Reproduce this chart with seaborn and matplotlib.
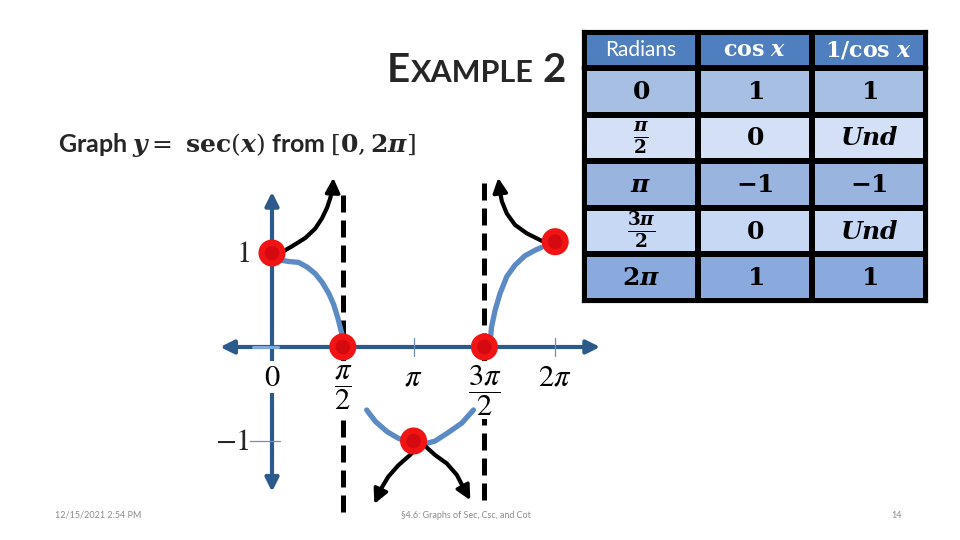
import numpy as np
import pandas as pd
import matplotlib
matplotlib.use("Agg")
import matplotlib.pyplot as plt
import seaborn as sns
from matplotlib.colors import ListedColormap

# ---------------- data ----------------
PI = np.pi
key_x = [0, PI / 2, PI, 3 * PI / 2, 2 * PI]
key_y = [1.0, 0.0, -1.0, 0.0, 1.12]          # red points as drawn on the slide

# light-blue sketch of cos x
cos_left_x = [0.11, 0.37, 0.59, 0.78, 0.96, 1.11, 1.26, 1.37, 1.46, 1.54, 1.58]
cos_left_y = [0.93, 0.91, 0.90, 0.85, 0.78, 0.69, 0.57, 0.45, 0.31, 0.16, 0.06]
cos_mid_x = [2.10, 2.29, 2.55, 2.80, 3.06, 3.32, 3.62, 3.91, 4.21, 4.47]
cos_mid_y = [-0.67, -0.79, -0.90, -0.97, -1.02, -1.04, -1.00, -0.91, -0.81, -0.67]
cos_right_x = [4.84, 4.87, 4.95, 5.06, 5.21, 5.39, 5.61, 5.84, 5.98]
cos_right_y = [0.04, 0.21, 0.39, 0.57, 0.75, 0.87, 0.97, 1.03, 1.06]

# black sec x branches with arrow heads (last point = arrow tip)
sec_a_x = [0.11, 0.44, 0.74, 0.96, 1.11, 1.22, 1.29, 1.35, 1.36]
sec_a_y = [0.98, 1.07, 1.16, 1.26, 1.37, 1.48, 1.58, 1.69, 1.80]
sec_b_x = [5.98, 5.65, 5.39, 5.21, 5.10, 5.06, 5.02]
sec_b_y = [1.13, 1.21, 1.30, 1.42, 1.55, 1.65, 1.80]
sec_c_x = [3.32, 3.06, 2.80, 2.58, 2.43, 2.27]
sec_c_y = [-1.02, -1.15, -1.26, -1.38, -1.50, -1.67]
sec_d_x = [3.32, 3.62, 3.88, 4.10, 4.24, 4.40]
sec_d_y = [-1.02, -1.15, -1.24, -1.36, -1.49, -1.63]

# vertical asymptotes
asym_x = [PI / 2, 3 * PI / 2]
asym_top = [1.69, 1.78]
asym_bottom = [-1.76, -1.63]

# axis extents
x_axis_range = [-1.15, 7.28]
y_axis_range = [-1.54, 1.65]

x_tick_pos = [0, PI / 2, PI, 3 * PI / 2, 2 * PI]
x_tick_labels = [r"$0$", r"$\dfrac{\pi}{2}$", r"$\pi$", r"$\dfrac{3\pi}{2}$", r"$2\pi$"]
y_tick_pos = [1, -1]
y_tick_labels = [r"$1$", r"$-1$"]

# table
table_header = [r"Radians", r"$\mathbf{cos}\ \mathbfit{x}$", r"$\mathbf{1/cos}\ \mathbfit{x}$"]
table_radians = [r"$\mathbf{0}$", r"$\frac{\mathbfit{\pi}}{\mathbf{2}}$", r"$\mathbfit{\pi}$",
                 r"$\frac{\mathbf{3}\mathbfit{\pi}}{\mathbf{2}}$", r"$\mathbf{2}\mathbfit{\pi}$"]
table_cos = [r"$\mathbf{1}$", r"$\mathbf{0}$", r"$\mathbf{-1}$", r"$\mathbf{0}$", r"$\mathbf{1}$"]
table_sec = [r"$\mathbf{1}$", r"$\mathbfit{Und}$", r"$\mathbf{-1}$", r"$\mathbfit{Und}$", r"$\mathbf{1}$"]
row_colors = ["#A6BFE2", "#D4E0F6", "#98B4DF", "#C7D8F4", "#8AAADD"]
header_color = "#4F7FBE"

# ---------------- style ----------------
sns.set_theme(style="white")
plt.rcParams["font.family"] = ["Lato", "DejaVu Sans"]
plt.rcParams["mathtext.fontset"] = "custom"
plt.rcParams["mathtext.rm"] = "DejaVu Serif"
plt.rcParams["mathtext.it"] = "DejaVu Serif:italic"
plt.rcParams["mathtext.bf"] = "DejaVu Serif:bold"
plt.rcParams["mathtext.bfit"] = "DejaVu Serif:italic:bold"

W, H = 960, 540
fig = plt.figure(figsize=(9.6, 5.4), dpi=100)
fig.patch.set_facecolor("white")

# main axes mapped onto slide pixels
X0, XS, Y0, YS = 272.0, 45.07, 347.0, 94.0
ax = fig.add_axes([0, 0, 1, 1])

AXCOL = "#2C5A8A"
# axes with double arrows
ax.annotate("", xy=(x_axis_range[0], 0), xytext=(x_axis_range[1], 0),
            arrowprops=dict(arrowstyle="<|-|>", color=AXCOL, lw=3, mutation_scale=20,
                            shrinkA=0, shrinkB=0), zorder=2)
ax.annotate("", xy=(0, y_axis_range[0]), xytext=(0, y_axis_range[1]),
            arrowprops=dict(arrowstyle="<|-|>", color=AXCOL, lw=3, mutation_scale=20,
                            shrinkA=0, shrinkB=0), zorder=2)

# small tick marks
for xp in [PI, 2 * PI]:
    ax.plot([xp, xp], [-0.1, 0.1], color="#6F8FB5", lw=0.9, zorder=3)
ax.plot([-0.49, 0.18], [-1, -1], color="#6F8FB5", lw=0.9, zorder=3)
ax.plot([-0.42, 0.13], [0, 0], color="#7FAAE0", lw=2.2, zorder=3)

# asymptotes
for xa, yt, yb in zip(asym_x, asym_top, asym_bottom):
    ax.plot([xa, xa], [yb, yt], color="black", lw=3.6, dashes=(3.4, 1.6), zorder=1)

# tick labels (serif, white background)
for xp, lab in zip(x_tick_pos, x_tick_labels):
    ax.text(xp, -0.17, lab, ha="center", va="top", fontsize=22, math_fontfamily="stix",
            color="black", zorder=4,
            bbox=dict(facecolor="white", edgecolor="none", pad=1))
for yp, lab in zip(y_tick_pos, y_tick_labels):
    ax.annotate(lab, xy=(0, yp), xytext=(-16, 0), textcoords="offset points",
                ha="right", va="center", fontsize=22, math_fontfamily="stix", zorder=4)

# light blue cos sketch
BLUE = "#5B8AC4"
for xs, ys in [(cos_left_x, cos_left_y), (cos_mid_x, cos_mid_y), (cos_right_x, cos_right_y)]:
    df = pd.DataFrame({"x": xs, "y": ys})
    sns.lineplot(data=df, x="x", y="y", ax=ax, color=BLUE, lw=3.8, sort=False,
                 estimator=None, zorder=5, solid_capstyle="round", solid_joinstyle="round")

# black sec branches with arrow heads
for xs, ys in [(sec_a_x, sec_a_y), (sec_b_x, sec_b_y), (sec_c_x, sec_c_y), (sec_d_x, sec_d_y)]:
    df = pd.DataFrame({"x": xs[:-1], "y": ys[:-1]})
    sns.lineplot(data=df, x="x", y="y", ax=ax, color="black", lw=3.0, sort=False,
                 estimator=None, zorder=6, solid_joinstyle="round")
    ax.annotate("", xy=(xs[-1], ys[-1]), xytext=(xs[-2], ys[-2]),
                arrowprops=dict(arrowstyle="-|>", color="black", lw=2.5, mutation_scale=22,
                                shrinkA=0, shrinkB=0), zorder=6)

# red key points
pts = pd.DataFrame({"x": key_x, "y": key_y})
sns.scatterplot(data=pts, x="x", y="y", ax=ax, s=380, color="#F01414", edgecolor="none", zorder=7)
sns.scatterplot(data=pts, x="x", y="y", ax=ax, s=110, color="#C0000E", edgecolor="none",
                alpha=0.55, zorder=8)
ax.set_xlim((0 - X0) / XS, (W - X0) / XS)
ax.set_ylim((Y0 - H) / YS, Y0 / YS)
ax.axis("off")

# ---------------- table (heatmaps) ----------------
tx0, tx1, ty0, ty1, ty2 = 584, 926, 32, 68, 301
axh = fig.add_axes([tx0 / W, 1 - ty1 / H, (tx1 - tx0) / W, (ty1 - ty0) / H])
axb = fig.add_axes([tx0 / W, 1 - ty2 / H, (tx1 - tx0) / W, (ty2 - ty1) / H])

hdr = pd.DataFrame([[0, 0, 0]])
sns.heatmap(hdr, ax=axh, cmap=ListedColormap([header_color]), cbar=False,
            annot=np.array([table_header]), fmt="", linewidths=3, linecolor="black",
            annot_kws=dict(color="white", fontsize=15), xticklabels=False, yticklabels=False)
for t in axh.texts:
    t.set_fontsize(15 if t.get_text() == "Radians" else 16)
    t.set_color("white")

body_vals = np.array([[i, i, i] for i in range(5)])
body_labels = np.array([table_radians, table_cos, table_sec]).T
sns.heatmap(pd.DataFrame(body_vals), ax=axb, cmap=ListedColormap(row_colors), vmin=-0.5,
            vmax=4.5, cbar=False, annot=body_labels, fmt="", linewidths=3, linecolor="black",
            annot_kws=dict(color="black", fontsize=18), xticklabels=False, yticklabels=False)
for t in axb.texts:
    t.set_color("black")
    if "frac" in t.get_text():
        t.set_fontsize(19)
for a in (axh, axb):
    for sp in a.spines.values():
        sp.set_visible(True)
        sp.set_linewidth(3)
        sp.set_color("black")

# ---------------- slide text ----------------
renderer = fig.canvas.get_renderer()
base = 1 - 82 / H
t2 = fig.text(566 / W, base, "2", fontsize=29, fontweight="bold", ha="right", va="baseline")
b2 = t2.get_window_extent(renderer)
t1 = fig.text((b2.x0 - 9) / W, base, "XAMPLE", fontsize=22, fontweight="bold",
              ha="right", va="baseline")
b1 = t1.get_window_extent(renderer)
fig.text((b1.x0 - 0.5) / W, base, "E", fontsize=29, fontweight="bold", ha="right", va="baseline")

fig.text(58 / W, 1 - 152 / H,
         r"Graph $\mathbfit{y} =\ \mathbf{sec}(\mathbfit{x})$ from $[\mathbf{0},\mathbf{2}\mathbfit{\pi}]$",
         fontsize=18, fontweight="bold", ha="left", va="baseline")

fig.text(55 / W, 1 - 515 / H, "12/15/2021 2:54 PM", fontsize=6.5, color="#8C8C8C", va="center")
fig.text(466 / W, 1 - 515 / H, "§4.6: Graphs of Sec, Csc, and Cot", fontsize=6.5,
         color="#8C8C8C", va="center", ha="center")
fig.text(897 / W, 1 - 515 / H, "14", fontsize=6.5, color="#8C8C8C", va="center", ha="center")

fig.savefig("out.png", dpi=100)
